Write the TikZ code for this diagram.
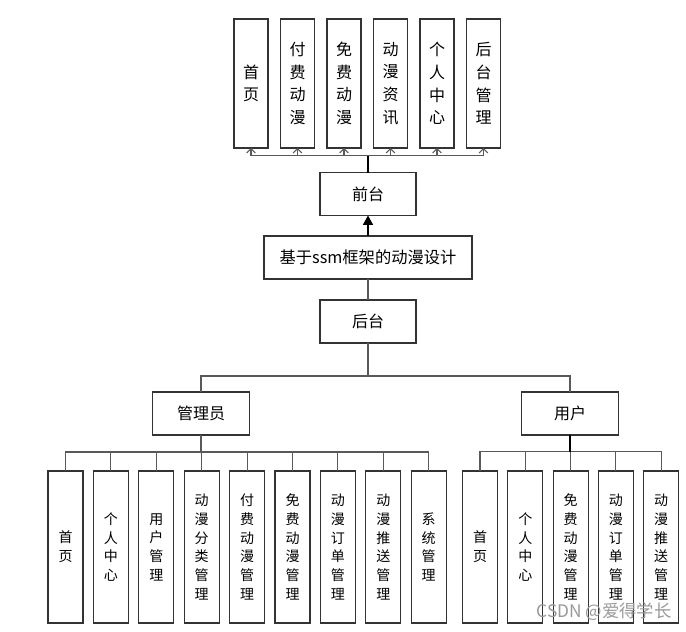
\documentclass[tikz,border=0pt]{standalone}
\usepackage{fontspec}
\setmainfont{Noto Sans CJK SC}
\usetikzlibrary{arrows.meta}
\begin{document}
\begin{tikzpicture}[x=0.75pt,y=-0.75pt,
  box/.style={draw=black!80, line width=0.9pt, fill=white, inner sep=0pt, outer sep=0pt, align=center},
  topbox/.style={box, minimum width=25.5pt, minimum height=96.75pt, font=\fontsize{12}{17}\selectfont},
  botbox/.style={box, minimum width=26.25pt, minimum height=114pt, font=\fontsize{10.5}{14}\selectfont},
  midbox/.style={box, minimum width=72pt, minimum height=32.25pt, font=\fontsize{12}{14}\selectfont},
  conn/.style={draw=black!65, line width=0.8pt},
  trunk/.style={draw=black, line width=1.6pt},
  openarr/.style={conn, -{Straight Barb[length=3.2pt,width=6.5pt,line width=0.7pt]}},
]
\useasboundingbox (0,0) rectangle (686,632);

% top boxes
\node[topbox] (t1) at (251,83.5) {首\\页};
\node[topbox] (t2) at (297.5,83.5) {付\\费\\动\\漫};
\node[topbox] (t3) at (344,83.5) {免\\费\\动\\漫};
\node[topbox] (t4) at (390.5,83.5) {动\\漫\\资\\讯};
\node[topbox] (t5) at (437,83.5) {个\\人\\中\\心};
\node[topbox] (t6) at (483.5,83.5) {后\\台\\管\\理};

% middle column
\node[midbox] (qt) at (368,194) {前台};
\node[box, minimum width=156pt, minimum height=32.25pt, font=\fontsize{12.2}{14}\selectfont] (main) at (368,257.5) {基于ssm框架的动漫设计};
\node[midbox] (ht) at (368,321.5) {后台};
\node[midbox, minimum width=72.75pt] (gly) at (201,413.5) {管理员};
\node[midbox, minimum width=72.75pt] (yh) at (570,413.5) {用户};

% bottom-left boxes
\node[botbox] (a1) at (65.5,547) {首\\页};
\node[botbox] (a2) at (110.9,547) {个\\人\\中\\心};
\node[botbox] (a3) at (156.3,547) {用\\户\\管\\理};
\node[botbox] (a4) at (201.7,547) {动\\漫\\分\\类\\管\\理};
\node[botbox] (a5) at (247.1,547) {付\\费\\动\\漫\\管\\理};
\node[botbox] (a6) at (292.5,547) {免\\费\\动\\漫\\管\\理};
\node[botbox] (a7) at (337.9,547) {动\\漫\\订\\单\\管\\理};
\node[botbox] (a8) at (383.3,547) {动\\漫\\推\\送\\管\\理};
\node[botbox] (a9) at (428.7,547) {系\\统\\管\\理};

% bottom-right boxes
\node[botbox] (b1) at (480,547) {首\\页};
\node[botbox] (b2) at (525.3,547) {个\\人\\中\\心};
\node[botbox] (b3) at (570.6,547) {免\\费\\动\\漫\\管\\理};
\node[botbox] (b4) at (615.9,547) {动\\漫\\订\\单\\管\\理};
\node[botbox] (b5) at (661.2,547) {动\\漫\\推\\送\\管\\理};

% connectors: front end
\foreach \t in {t1,t2,t3,t4,t5,t6}
  \draw[openarr] (qt.north) -- ++(0,-17) -| (\t.south);
\draw[trunk] (qt.north) -- ++(0,-17);
\draw[-{Triangle[length=7pt,width=7.5pt]}, line width=0.9pt] (main.north) -- (qt.south);

% connectors: back end
\draw[conn] (main.south) -- (ht.north);
\draw[conn] (ht.south) -- ++(0,33) -| (gly.north);
\draw[conn] (ht.south) -- ++(0,33) -| (yh.north);
\foreach \b in {a1,a2,a3,a4,a5,a6,a7,a8,a9}
  \draw[conn] (gly.south) -- ++(0,17) -| (\b.north);
\foreach \b in {b1,b2,b3,b4,b5}
  \draw[conn] (yh.south) -- ++(0,16.5) -| (\b.north);
\draw[trunk] (yh.south) -- ++(0,16.5);

% watermark
\node[text=black!40, font=\fontsize{13}{14}\selectfont, inner sep=0pt] (wm) at (604,612) {CSDN @爱得学长};
\end{tikzpicture}
\end{document}
